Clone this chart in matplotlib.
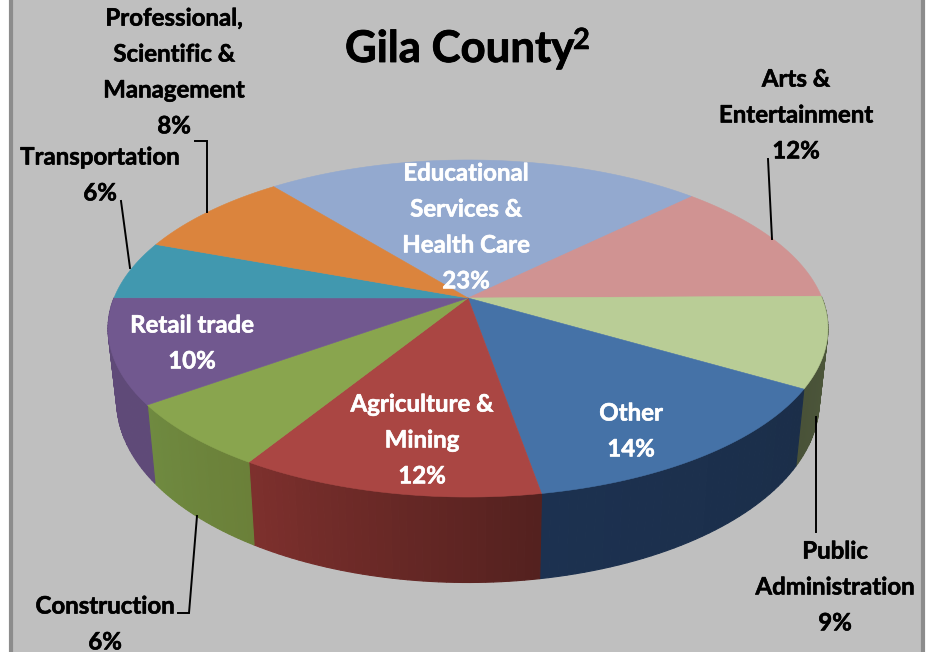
import numpy as np
import matplotlib
matplotlib.use('Agg')
import matplotlib.pyplot as plt
import matplotlib.patheffects as pe
from matplotlib.colors import to_rgb

# categories clockwise starting from the left edge of Educational Services
categories = ['Educational\nServices &\nHealth Care', 'Arts &\nEntertainment', 'Public\nAdministration',
              'Other', 'Agriculture &\nMining', 'Construction', 'Retail trade', 'Transportation',
              'Professional,\nScientific &\nManagement']
shown_pct = [23, 12, 9, 14, 12, 6, 10, 6, 8]
# share of the circle as drawn in the picture (differs a bit from the printed labels)
drawn_share = [23.4, 12.2, 8.65, 13.8, 11.5, 6.25, 10.0, 5.65, 8.55]
top_colors = ['#93a9cf', '#d09392', '#b9cd96', '#4572a7', '#aa4643', '#89a54e', '#71588f', '#4198af', '#db843d']
side_colors = [None, None, ('#4f5a3c', '#495238'), ('#1b2e49', '#1c3150'), ('#54211f', '#7d302d'),
               ('#6b8039', '#6f8a40'), ('#5f4a78', '#5f4a78'), None, None]
label_pos = [(466, 227), (796, 115), (835, 587), (631, 431), (422, 440), (105, 624), (192, 343), (100, 175), (174, 72)]
label_white = [True, False, False, True, True, False, True, False, False]
start_angle = -38.8

# pie placement in the picture
cx, cy = 468, 298
rx, ry, k = 354, 163, 0.181
drop = 70
shrink = 0.976


def project(theta):
    u, v = np.sin(theta), np.cos(theta)
    w = 1 + k * v
    return cx + rx * u / w, cy - ry * v / w, w


def lower(theta):
    x, y, w = project(theta)
    return cx + (x - cx) * shrink, y + drop / w


fig = plt.figure(figsize=(9.36, 6.52), dpi=100, facecolor='white')
ax = fig.add_axes([0, 0, 1, 1])
ax.set_xlim(0, 936)
ax.set_ylim(652, 0)
ax.axis('off')
ax.fill([11, 923, 923, 11], [-5, -5, 660, 660], facecolor='#bfbfbf', edgecolor='#8c8c8c', lw=3, zorder=0)

edges = start_angle + np.concatenate([[0], np.cumsum(drawn_share)]) * 360 / sum(drawn_share)

# side wall, one narrow strip at a time for the shading
for i, cols in enumerate(side_colors):
    if cols is None:
        continue
    a0, a1 = np.radians(edges[i]), np.radians(min(edges[i + 1], 272))
    steps = np.linspace(a0, a1, 40)
    c0, c1 = np.array(to_rgb(cols[0])), np.array(to_rgb(cols[1]))
    for j in range(len(steps) - 1):
        th = steps[j:j + 2]
        xt, yt, _ = project(th)
        xb, yb = lower(th)
        col = c0 + (c1 - c0) * j / (len(steps) - 2)
        ax.fill([xt[0], xt[1], xb[1], xb[0]], [yt[0], yt[1], yb[1], yb[0]], facecolor=col, edgecolor=col, lw=0.8, zorder=1)

for i, col in enumerate(top_colors):
    th = np.radians(np.linspace(edges[i], edges[i + 1], 80))
    x, y, _ = project(th)
    ax.fill(np.r_[cx, x], np.r_[cy, y], facecolor=col, edgecolor=col, lw=0.4, zorder=2)

# leader lines
leaders = [([195, 207, 207], [141, 141, 212]), ([121, 130], [201, 268]), ([768, 772], [159, 239]),
           ([816, 816], [417, 532]), ([178, 189, 197], [613, 613, 516])]
for lx, ly in leaders:
    ax.plot(lx, ly, color='black', lw=1.4, zorder=3, solid_joinstyle='miter')

plt.rcParams['font.family'] = ['Lato', 'DejaVu Sans']
for name, pct, pos, white in zip(categories, shown_pct, label_pos, label_white):
    col = 'white' if white else 'black'
    t = ax.text(pos[0], pos[1], f'{name}\n{pct}%', ha='center', va='center', fontsize=17.3, fontweight='bold',
                color=col, linespacing=1.68, zorder=4)
    t.set_path_effects([pe.withStroke(linewidth=0.4, foreground=col)])

t = ax.text(345, 62, 'Gila County', ha='left', va='baseline', fontsize=31.5, fontweight='bold', color='black', zorder=4)
t.set_path_effects([pe.withStroke(linewidth=0.6, foreground='black')])
t = ax.text(573, 49, '2', ha='left', va='baseline', fontsize=21, fontweight='bold', color='black', zorder=4)
t.set_path_effects([pe.withStroke(linewidth=0.4, foreground='black')])

fig.savefig('out.png', dpi=100)
